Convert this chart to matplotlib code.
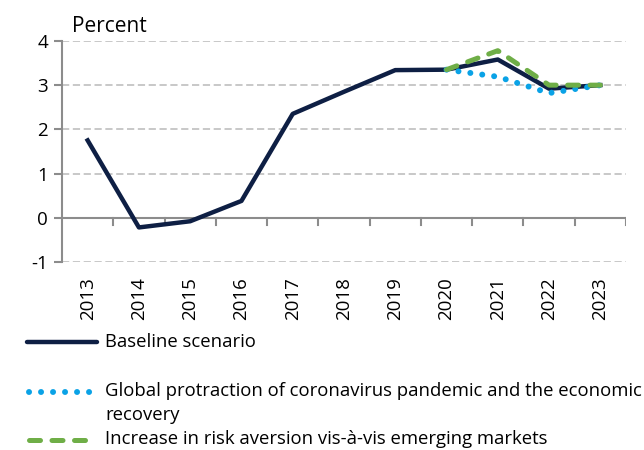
import numpy as np
import matplotlib.pyplot as plt
from matplotlib.lines import Line2D

plt.rcParams['font.family'] = ['Open Sans', 'DejaVu Sans']

# Data
years = ['2013', '2014', '2015', '2016', '2017', '2018', '2019', '2020', '2021', '2022', '2023']
baseline = [1.75, -0.22, -0.08, 0.38, 2.35, 2.85, 3.34, 3.35, 3.58, 2.92, 3.0]
scen_years = ['2020', '2021', '2022', '2023']
protraction = [3.35, 3.19, 2.82, 3.0]
risk_aversion = [3.35, 3.78, 3.0, 3.0]

labels = ['Baseline scenario',
          'Global protraction of coronavirus pandemic and the economic\nrecovery',
          'Increase in risk aversion vis-à-vis emerging markets']

navy = '#0E1F44'
blue = '#0AA2E6'
green = '#6FAE47'
grey = '#8C8C8C'

dots = (0, (0.01, 2.0))
dashes = (0, (2.2, 2.3))

fig = plt.figure(figsize=(6.44, 4.5), dpi=100)
ax = fig.add_axes([0.0963, 0.418, 0.8757, 0.491])

x = np.arange(len(years))
xs = np.array([years.index(y) for y in scen_years])

ax.plot(x, baseline, color=navy, lw=3.2, solid_joinstyle='round', zorder=3)
ax.plot(xs, protraction, color=blue, lw=4.3, linestyle=dots,
        dash_capstyle='round', zorder=4)
ax.plot(xs, risk_aversion, color=green, lw=3.6, linestyle=dashes,
        dash_capstyle='round', zorder=5)

ax.set_xlim(-0.5, len(years) - 0.5)
ax.set_ylim(-1, 4)
ax.set_yticks([-1, 0, 1, 2, 3, 4])
ax.set_yticklabels(['-1', '0', '1', '2', '3', '4'], fontsize=13.5)
ax.set_xticks(x)
ax.set_xticklabels(years, rotation=90, fontsize=13.5)
ax.tick_params(axis='x', length=0, pad=11)
ax.tick_params(axis='y', length=6, width=1.5, color=grey, pad=4)

for yv in [-1, 1, 2, 3, 4]:
    ax.axhline(yv, color='#C4C4C4', lw=1.3, ls=(0, (4, 2)), zorder=1)
ax.axhline(0, color=grey, lw=1.5, zorder=2)
# category boundary ticks on the zero line
for b in np.arange(0.5, len(years), 1.0):
    ax.plot([b, b], [0, -0.16], color=grey, lw=1.5, zorder=2)

for s in ['top', 'right', 'bottom']:
    ax.spines[s].set_visible(False)
ax.spines['left'].set_color(grey)
ax.spines['left'].set_linewidth(1.5)

fig.text(0.112, 0.942, 'Percent', fontsize=15, va='center', ha='left')

# Legend drawn below the plot
def fx(px):
    return px / 644

def fy(py):
    return 1 - py / 450

fig.add_artist(Line2D([fx(27), fx(97)], [fy(342), fy(342)], color=navy, lw=3.2,
                      solid_capstyle='round'))
fig.add_artist(Line2D([fx(29), fx(91)], [fy(392), fy(392)], color=blue, lw=4.3,
                      linestyle=dots, dash_capstyle='round'))
fig.add_artist(Line2D([fx(29), fx(91)], [fy(440), fy(440)], color=green, lw=3.6,
                      linestyle=dashes, dash_capstyle='round'))
fig.text(fx(105), fy(342), labels[0], fontsize=13.3, va='center', ha='left')
fig.text(fx(105), fy(391), labels[1].split('\n')[0], fontsize=13.3, va='center', ha='left')
fig.text(fx(105), fy(415), labels[1].split('\n')[1], fontsize=13.3, va='center', ha='left')
fig.text(fx(105), fy(439), labels[2], fontsize=13.3, va='center', ha='left')

fig.savefig('out.png', dpi=100)
